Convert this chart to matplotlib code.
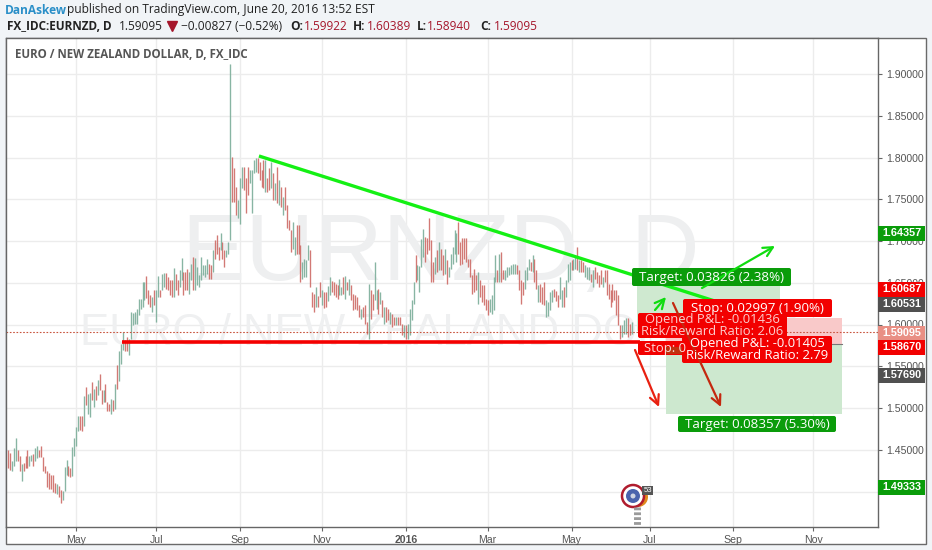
import matplotlib
matplotlib.use("Agg")
import matplotlib.pyplot as plt
from matplotlib.patches import Rectangle, FancyBboxPatch, Circle
import numpy as np

# daily bars, high / low / direction
highs = [
    1.450,1.446,1.436,1.452,1.464,1.450,1.442,1.433,1.434,1.443,
    1.450,1.443,1.444,1.445,1.452,1.454,1.450,1.454,1.441,1.430,
    1.424,1.422,1.420,1.420,1.410,1.409,1.406,1.402,1.401,1.429,
    1.438,1.430,1.428,1.453,1.464,1.477,1.490,1.490,1.490,1.514,
    1.525,1.517,1.518,1.531,1.523,1.526,1.534,1.541,1.522,1.522,
    1.529,1.507,1.505,1.511,1.510,1.529,1.552,1.568,
    1.577,1.591,1.581,1.585,1.583,1.615,1.614,1.615,1.619,1.630,
    1.631,1.651,1.651,1.658,1.641,1.635,1.633,1.641,1.641,1.658,
    1.641,1.661,1.662,1.662,1.657,1.653,1.653,1.668,1.661,1.653,
    1.665,1.680,1.663,1.663,1.667,1.663,1.673,1.681,1.680,1.669,
    1.659,1.681,1.671,1.671,1.679,1.673,1.671,1.689,1.701,
    1.707,1.693,1.709,1.699,1.689,1.689,1.699,1.912,
    1.801,1.787,1.765,1.749,1.775,1.789,1.789,1.775,1.789,1.785,
    1.785,1.797,1.799,1.800,1.795,1.785,1.797,1.797,1.775,1.787,
    1.795,1.781,1.769,1.789,1.773,1.765,1.753,1.765,1.743,1.725,
    1.713,1.723,1.705,1.719,1.719,1.695,1.675,1.679,1.677,1.695,
    1.689,1.639,1.637,1.645,
    1.634,1.651,1.641,1.639,1.639,1.646,1.657,1.652,1.651,1.649,
    1.647,1.655,1.645,1.657,1.658,1.651,1.654,1.647,1.637,1.635,
    1.633,1.623,1.619,1.621,1.623,1.603,1.649,1.641,1.637,1.675,
    1.641,1.643,1.639,1.629,1.621,1.621,1.619,1.615,1.613,1.609,
    1.609,1.609,1.609,1.601,1.599,1.599,1.601,1.619,
    1.629,1.651,1.683,1.671,1.670,1.702,1.714,1.705,1.703,1.727,
    1.701,1.675,1.681,1.689,1.699,1.691,1.683,1.691,1.677,1.669,
    1.685,1.693,1.713,1.709,1.723,1.699,1.703,1.703,1.703,1.679,
    1.679,1.659,1.667,1.659,1.663,1.653,1.647,1.647,1.631,1.629,
    1.631,1.635,1.657,1.683,1.665,1.685,1.687,1.665,1.665,1.669,
    1.669,1.671,1.672,1.672,1.671,1.665,1.653,
    1.651,1.665,1.669,1.679,1.675,1.683,1.679,1.665,1.647,1.649,
    1.645,1.651,1.629,1.627,1.639,1.641,1.643,1.640,
    1.635,1.657,1.641,1.645,1.653,1.673,1.675,1.677,1.679,1.681,
    1.693,1.677,1.677,1.675,1.671,1.669,1.669,1.661,1.665,1.669,1.663,
    1.659,1.665,1.657,1.665,1.665,1.649,1.641,1.649,1.641,1.641,
    1.635,1.599,1.599,1.605,1.608,1.608,1.601,1.603,
]
lows = [
    1.428,1.426,1.425,1.430,1.436,1.436,1.424,1.413,1.424,1.428,
    1.428,1.430,1.436,1.430,1.436,1.440,1.441,1.441,1.424,1.422,
    1.405,1.403,1.403,1.399,1.398,1.397,1.393,1.386,1.390,1.401,
    1.420,1.418,1.417,1.418,1.442,1.454,1.472,1.474,1.472,1.479,
    1.503,1.493,1.489,1.510,1.501,1.509,1.515,1.522,1.505,1.507,
    1.507,1.497,1.497,1.493,1.496,1.499,1.523,1.532,
    1.553,1.569,1.568,1.568,1.563,1.583,1.599,1.601,1.601,1.611,
    1.619,1.621,1.629,1.632,1.625,1.621,1.615,1.623,1.603,1.633,
    1.633,1.641,1.645,1.643,1.641,1.635,1.633,1.633,1.641,1.635,
    1.645,1.653,1.635,1.641,1.641,1.637,1.653,1.641,1.641,1.647,
    1.645,1.653,1.659,1.657,1.661,1.654,1.655,1.663,1.679,
    1.685,1.677,1.689,1.679,1.669,1.681,1.685,1.701,
    1.747,1.747,1.731,1.727,1.720,1.763,1.761,1.733,1.755,1.769,
    1.733,1.781,1.783,1.781,1.773,1.765,1.763,1.759,1.759,1.761,
    1.763,1.749,1.749,1.745,1.743,1.741,1.731,1.737,1.715,1.713,
    1.687,1.691,1.683,1.685,1.685,1.651,1.655,1.657,1.657,1.677,
    1.645,1.621,1.615,1.621,
    1.621,1.633,1.623,1.620,1.621,1.628,1.635,1.639,1.635,1.633,
    1.631,1.635,1.635,1.637,1.631,1.641,1.635,1.629,1.617,1.619,
    1.617,1.609,1.607,1.609,1.601,1.589,1.583,1.607,1.617,1.629,
    1.619,1.613,1.625,1.609,1.601,1.603,1.605,1.601,1.597,1.599,
    1.599,1.599,1.599,1.587,1.585,1.583,1.583,1.587,
    1.605,1.625,1.651,1.653,1.639,1.669,1.681,1.675,1.685,1.689,
    1.651,1.651,1.661,1.663,1.665,1.665,1.659,1.661,1.649,1.657,
    1.667,1.673,1.685,1.675,1.685,1.671,1.673,1.679,1.675,1.669,
    1.657,1.637,1.639,1.641,1.625,1.633,1.627,1.623,1.617,1.611,
    1.615,1.613,1.617,1.651,1.651,1.651,1.651,1.655,1.653,1.657,
    1.659,1.661,1.661,1.661,1.661,1.641,1.625,
    1.635,1.643,1.653,1.665,1.664,1.663,1.651,1.643,1.627,1.627,
    1.625,1.623,1.609,1.610,1.617,1.627,1.633,1.628,
    1.621,1.631,1.621,1.621,1.633,1.651,1.653,1.665,1.665,1.667,
    1.665,1.663,1.663,1.663,1.657,1.655,1.653,1.651,1.645,1.655,1.650,
    1.645,1.649,1.645,1.651,1.635,1.631,1.621,1.627,1.629,1.611,
    1.599,1.583,1.585,1.589,1.589,1.585,1.587,1.589,
]
directions = ("rrgggrrgrr" "rggrggrrrr" "rrrrrgrrgg" "grrggggrrg" "rggrgrgrrg" "rrrgrgrg"
              "ggrrgggggg" "gggrrrgrgg" "rggrrrrgrr" "ggrrrggrgg" "gggggrrgr"
              "rrgrrggg"
              "rrrgggrrrg" "gggrrrrgrr" "grgrgrgrrr" "rggrrrgggg" "rrrg"
              "rrgrrggrrr" "rggrgrgrrr" "rrgrrrgrrg" "grgrgrrgrr" "grrrgrgg"
              "ggrggggrrr" "rrgrgrrgrg" "ggggrrrrrr" "rrrrgrrrrr" "ggggrgrrgg" "ggggrrr"
              "rgggrgrrgr" "rrggggrr" "rggrgggrgg" "rgrrgggrgrr" "rrgrrrrrrrrrgggrrg")
assert len(highs) == len(lows) == len(directions)

last_close = 1.59095
price_ticks = [1.40, 1.45, 1.50, 1.55, 1.60, 1.65, 1.70, 1.75, 1.80, 1.85, 1.90]
price_labels = ["", "1.45000", "1.50000", "1.55000", "1.60000", "1.65000", "1.70000",
                "1.75000", "1.80000", "1.85000", "1.90000"]
month_bars = [35, 76, 119, 161, 204, 246, 289, 329, 372, 413]
month_labels = ["May", "Jul", "Sep", "Nov", "2016", "Mar", "May", "Jul", "Sep", "Nov"]

trend_bars = [128.7, 362.6]
trend_prices = [1.8018, 1.628]
support_bars = [58.5, 324]
support_prices = [1.579, 1.579]

tag_texts = ["1.64357", "1.60687", "1.60531", "1.59095", "1.58670", "1.57690", "1.49333"]

W, H = 932, 550
GREEN = "#0a9c0a"
RED = "#f20000"
FONT = "Liberation Sans"
plt.rcParams["font.family"] = [FONT, "DejaVu Sans"]

fig = plt.figure(figsize=(W / 100, H / 100), dpi=100, facecolor="#f1f4f7")
fig.add_artist(Rectangle((6 / W, 1 - 544 / H), 920 / W, 506 / H, transform=fig.transFigure,
                         fc="white", ec="#6a6a6a", lw=1, zorder=-1))

# price pane, 835 px per 1.0 of price with 1.50 at y=408
ax = fig.add_axes([6 / W, 1 - 527 / H, 872 / W, 489 / H], facecolor="white")
ax.set_ylim(1.50 - (527 - 408) / 835, 1.50 + (408 - 38) / 835)
dx = 1.95
ax.set_xlim((6 - 8) / dx, (878 - 8) / dx)
ax.yaxis.tick_right()
ax.set_yticks(price_ticks)
ax.set_yticklabels(price_labels, fontsize=7.6, color="#555555")
ax.set_xticks(month_bars)
ax.set_xticklabels(month_labels, fontsize=7.6, color="#555555")
for lab in ax.get_xticklabels():
    if lab.get_text() == "2016":
        lab.set_fontweight("bold")
ax.tick_params(axis="both", length=3, width=0.8, color="#666666", pad=3)
ax.grid(True, color="#ececec", lw=1)
ax.set_axisbelow(True)
for s in ax.spines.values():
    s.set_color("#666666")
    s.set_linewidth(1)

# overlay in pixel coordinates for the drawing tools
px = fig.add_axes([0, 0, 1, 1], facecolor="none")
px.set_xlim(0, W)
px.set_ylim(H, 0)
px.axis("off")
px.set_zorder(3)

ax.text(441, 256, "EURNZD, D", transform=px.transData, fontsize=68.5, color="#eeeff0",
        ha="center", va="center", zorder=0.6)
ax.text(441, 333, "EURO / NEW ZEALAND DOLLAR, D", transform=px.transData, fontsize=31.5,
        color="#eff0f1", ha="center", va="center", zorder=0.6)

x = np.arange(len(highs))
stem = ["#cf6f6a" if d == "r" else "#7fb09c" for d in directions]
ax.vlines(x, lows, highs, colors=stem, lw=1.9, alpha=0.2, zorder=2)
ax.vlines(x, lows, highs, colors=stem, lw=0.65, zorder=2.1)

ax.axhline(last_close, color="#c9553f", lw=0.8, ls=(0, (1.5, 1.5)), zorder=2.2)

# position tool zones
ax.add_patch(Rectangle((637, 285), 143, 46, transform=px.transData, fc="#cfe9d0", ec="none", zorder=1.5))
ax.add_patch(Rectangle((666, 344), 176, 70, transform=px.transData, fc="#cde8cf", ec="none", zorder=1.5))
ax.add_patch(Rectangle((666, 318), 176, 26, transform=px.transData, fc="#f9c9c9", ec="none", zorder=1.5))
ax.plot([666, 842], [344, 344], transform=px.transData, color="#777777", lw=0.8, zorder=1.6)

ax.plot(trend_bars, trend_prices, color="#14f014", lw=2.4, zorder=3, solid_capstyle="butt")
ax.plot(support_bars, support_prices, color="#f40000", lw=2.6, zorder=3, solid_capstyle="butt")


def arrow(x0, y0, x1, y1, color):
    px.annotate("", xy=(x1, y1), xytext=(x0, y0),
                arrowprops=dict(arrowstyle="->", color=color, lw=1.6, mutation_scale=17,
                                shrinkA=0, shrinkB=0))


def label(x0, y0, x1, y1, color, text, alpha=1.0, fs=9.4):
    px.add_patch(FancyBboxPatch((x0 + 2, y0 + 2), x1 - x0 - 4, y1 - y0 - 4,
                                boxstyle="round,pad=2", fc=color, ec="none"))
    px.text((x0 + x1) / 2, (y0 + y1) / 2 + 0.3, text, color="white", alpha=alpha, fontsize=fs,
            ha="center", va="center", linespacing=0.9, fontfamily="Open Sans")


arrow(702, 288, 775, 246, "#0fdc0f")
arrow(655, 310, 666, 297, "#0fdc0f")
arrow(635, 350, 659, 407, "#e82010")
arrow(673, 303, 721, 407, "#c4280f")

label(632, 268, 791, 286, GREEN, "Target: 0.03826 (2.38%)", fs=9.6)
label(638, 313, 787, 338, RED, "Opened P&L: -0.01436\nRisk/Reward Ratio: 2.06", alpha=0.8)
label(638, 341, 700, 355, RED, "")
px.text(644, 348.5, "Stop: 0", color="white", alpha=0.85, fontsize=9.4, ha="left", va="center",
        fontfamily="Open Sans")
px.add_patch(Rectangle((665, 347), 18, 7, fc="#c0300f", ec="none"))
label(683, 299, 832, 317, RED, "Stop: 0.02997 (1.90%)", fs=9.6)
label(682, 336, 832, 363, RED, "Opened P&L: -0.01405\nRisk/Reward Ratio: 2.79")
label(678, 416, 836, 432, GREEN, "Target: 0.08357 (5.30%)", fs=9.6)

# earnings flag + dashed stem
px.add_patch(Circle((638, 497), 10, fc="#e08a1e", ec="none"))
px.add_patch(Circle((633, 496), 11, fc="white", ec="#b01c2e", lw=1.8))
px.add_patch(Circle((633, 496), 7, fc="#4a63ad", ec="none"))
px.add_patch(Circle((633, 496), 2.5, fc="#cfd4e2", ec="none"))
px.add_patch(Rectangle((642, 486), 11, 9, fc="#555555", ec="none"))
px.text(647.5, 490.5, "53", color="white", fontsize=5.5, ha="center", va="center")
px.plot([637, 637], [507, 526], color="#9a9a9a", lw=5, ls=(0, (0.4, 0.3)))

# price tags on the scale
tag_colors = [GREEN, RED, "#505050", "#e98f84", RED, "#505050", GREEN]
tag_centers = [233, 289, 304, 333, 347, 375, 487]
for t, c, yc in zip(tag_texts, tag_colors, tag_centers):
    px.add_patch(Rectangle((878, yc - 7), 47, 14.5, fc=c, ec="none"))
    px.text(902, yc + 0.2, t, color="white", fontsize=7.8, ha="center", va="center", fontweight="bold")

# header
head = "Open Sans"
px.text(5, 10, "DanAskew", color="#2a8fc8", fontsize=8.6, fontweight="bold", va="center", fontfamily=head)
px.text(67, 10, "published on TradingView.com, June 20, 2016 13:52 EST", color="#222222", fontsize=8.6,
        va="center", fontfamily=head)
px.text(7, 26, "FX_IDC:EURNZD, D", color="#222222", fontsize=8.5, fontweight="bold", va="center", fontfamily=head)
px.text(119, 26, "1.59095", color="#222222", fontsize=8.6, va="center", fontfamily=head)
px.plot([172], [26], marker="v", color="#a5162b", ms=7, ls="none")
px.text(181, 26, "\u22120.00827 (\u22120.52%)", color="#222222", fontsize=8.6, va="center", fontfamily=head)
for xo, letter, value in [(290, "O:", "1.59922"), (353, "H:", "1.60389"), (417, "L:", "1.58940"), (480, "C:", "1.59095")]:
    t = px.text(xo, 26, letter, color="#222222", fontsize=8.6, fontweight="bold", va="center", fontfamily=head)
    px.text(xo + (14 if letter != "L:" else 10), 26, value, color="#a5162b", fontsize=8.6, va="center", fontfamily=head)
px.text(15, 54, "EURO / NEW ZEALAND DOLLAR, D, FX_IDC", color="#555555", fontsize=8.3, fontweight="bold",
        va="center", fontfamily=head)

fig.savefig("out.png", dpi=100, facecolor=fig.get_facecolor())
